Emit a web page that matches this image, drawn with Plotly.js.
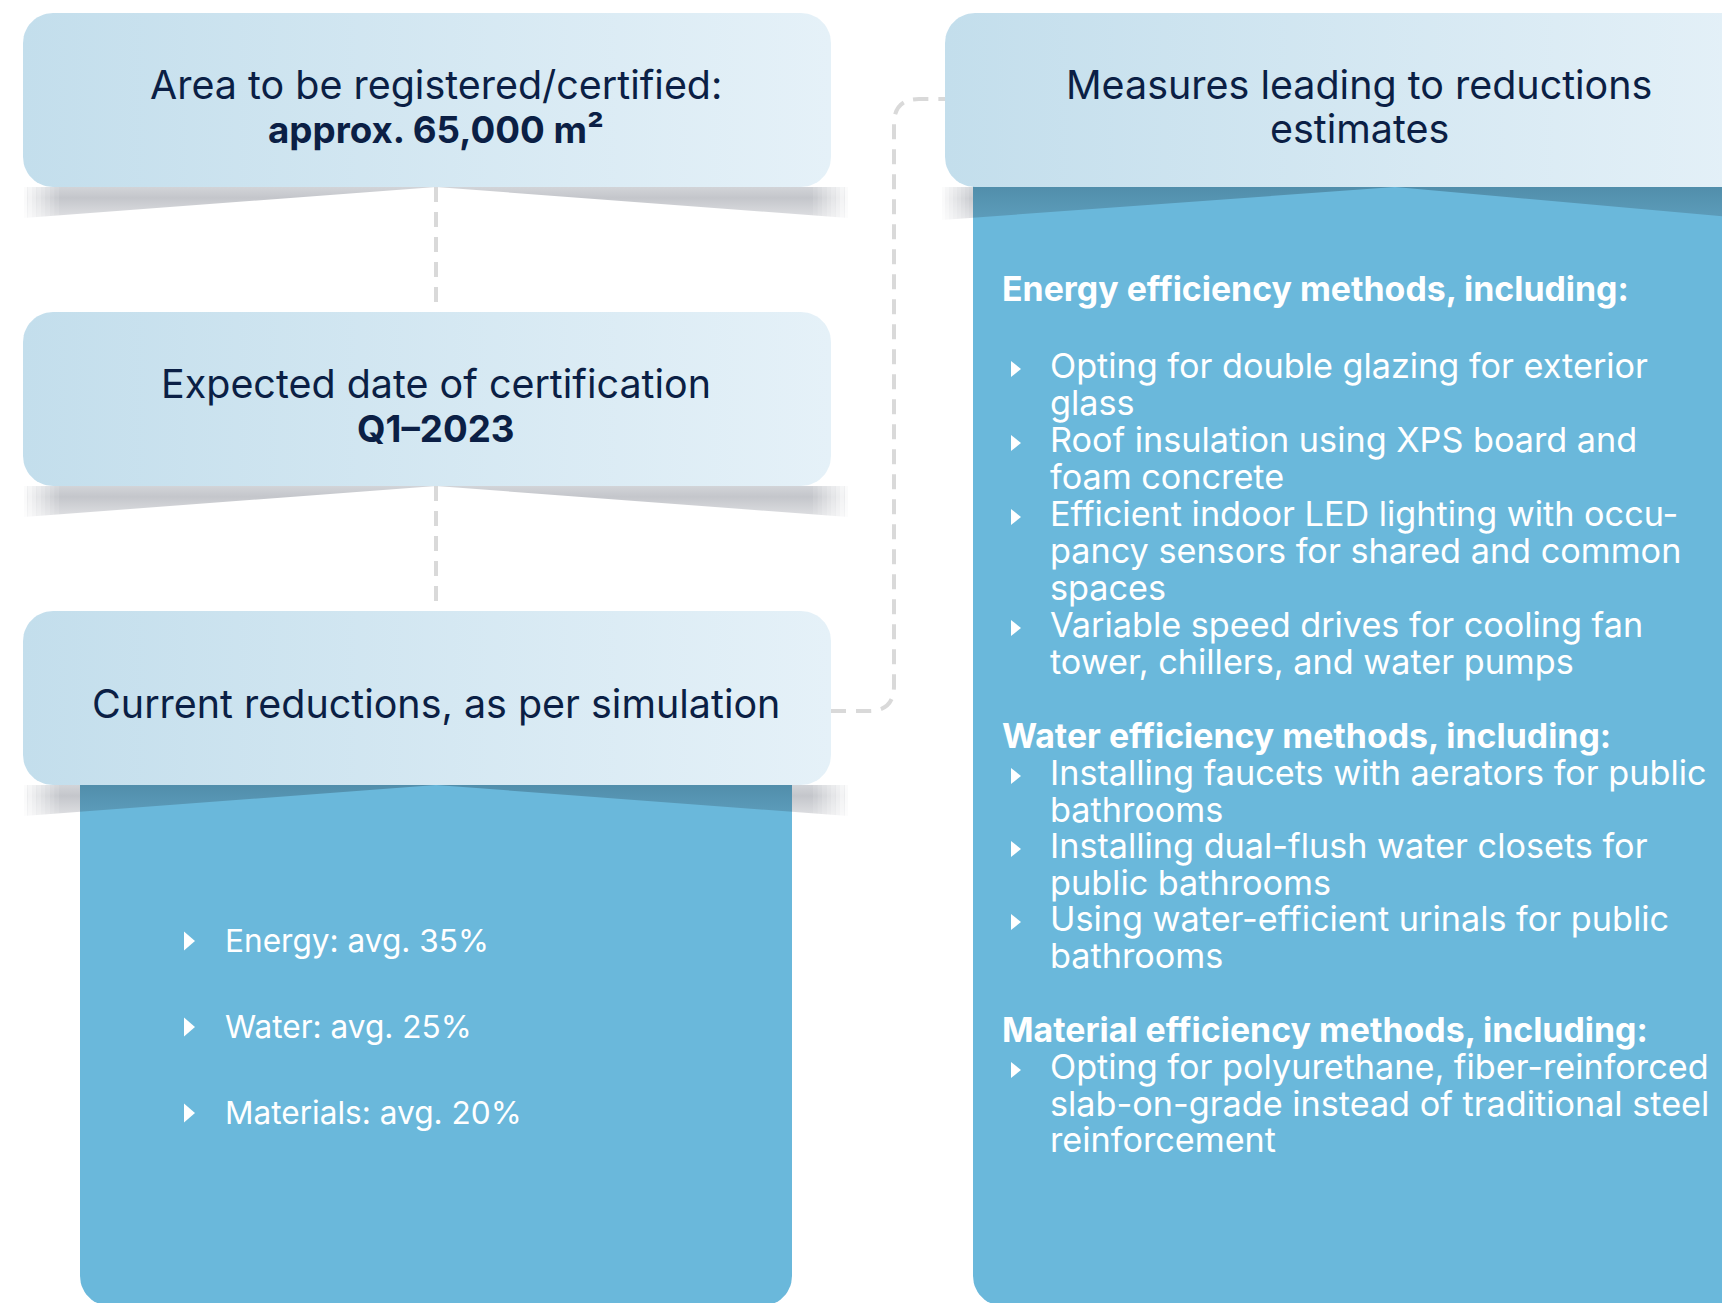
<!DOCTYPE html>
<html><head><meta charset="utf-8">
<script src="https://cdn.plot.ly/plotly-3.0.1.min.js"></script>
<style>html,body{margin:0;padding:0;background:#fff;overflow:hidden}</style>
</head><body><div id="chart" style="width:1722px;height:1303px"></div>
<script>
// ---------------- data ----------------
const cardTitles = ["Area to be registered/certified:", "Expected date of certification", "Current reductions, as per simulation"];
const cardValues = ["approx. 65,000 m²", "Q1–2023", ""];
const reductionCategories = ["Energy", "Water", "Materials"];
const reductionAvgPct = [35, 25, 20];
const measuresTitle = ["Measures leading to reductions", "estimates"];
const measureGroups = ["Energy efficiency methods, including:", "Water efficiency methods, including:", "Material efficiency methods, including:"];
const energyMeasures = [
  ["Opting for double glazing for exterior", "glass"],
  ["Roof insulation using XPS board and", "foam concrete"],
  ["Efficient indoor LED lighting with occu-", "pancy sensors for shared and common", "spaces"],
  ["Variable speed drives for cooling fan", "tower, chillers, and water pumps"]
];
const waterMeasures = [
  ["Installing faucets with aerators for public", "bathrooms"],
  ["Installing dual-flush water closets for", "public bathrooms"],
  ["Using water-efficient urinals for public", "bathrooms"]
];
const materialMeasures = [
  ["Opting for polyurethane, fiber-reinforced", "slab-on-grade instead of traditional steel", "reinforcement"]
];

// ---------------- layout / style ----------------
const W = 1722, H = 1303;
const FAMILY = "Inter, 'Open Sans', sans-serif";
const NAVY = "#0b1f45";
const PANEL = "#6ab8db";
const BOX_GRAD = [[0, "#c3deec"], [1, "#e5f1f8"]];
const SHADOW_GRAD = [[0, "#d2d4d8"], [0.35, "#c4c6cb"], [1, "#dfe0e3"]];
const WEDGE_GRAD = [[0, "#518eab"], [1, "#5c9cba"]];
const DASH = "#d9d9d9";

const cv = document.createElement('canvas').getContext('2d');
function measure(t, weight) { cv.font = weight + " 100px " + FAMILY; return cv.measureText(t).width; }
function fit(strs, widths, weight) {
  let s = 0; strs.forEach((t, i) => { s += widths[i] / measure(t, weight) * 100; }); return s / strs.length;
}
cv.font = "400 100px " + FAMILY;
const mm = cv.measureText("Hg");
const K = (mm.fontBoundingBoxAscent && mm.fontBoundingBoxDescent) ? (mm.fontBoundingBoxAscent - mm.fontBoundingBoxDescent) / 200 : 0.365;

const leftItems = reductionCategories.map((c, i) => c + ": avg. " + reductionAvgPct[i] + "%");
const sTitle = fit([cardTitles[0], cardTitles[1], cardTitles[2], measuresTitle[0]], [568, 551, 692, 587], 400);
const sValue = fit([cardValues[0], cardValues[1]], [345, 154], 700);
const sLeft = fit(leftItems, [263, 247, 298], 400);
const sHead = fit(measureGroups, [628, 612, 646], 700);
const sItem = fit([energyMeasures[0][0], energyMeasures[2][0], waterMeasures[0][0], materialMeasures[0][0]], [596, 636, 654, 656], 400);

function roundRect(x0, y0, x1, y1, r, top, bottom) {
  const xs = [], ys = [], n = 14;
  function arc(cx, cy, a0, a1) { for (let i = 0; i <= n; i++) { const a = a0 + (a1 - a0) * i / n; xs.push(cx + r * Math.cos(a)); ys.push(cy + r * Math.sin(a)); } }
  if (top) { arc(x0 + r, y0 + r, Math.PI, 1.5 * Math.PI); arc(x1 - r, y0 + r, 1.5 * Math.PI, 2 * Math.PI); }
  else { xs.push(x0, x1); ys.push(y0, y0); }
  if (bottom) { arc(x1 - r, y1 - r, 0, 0.5 * Math.PI); arc(x0 + r, y1 - r, 0.5 * Math.PI, Math.PI); }
  else { xs.push(x1, x0); ys.push(y1, y1); }
  xs.push(xs[0]); ys.push(ys[0]);
  return { xs, ys };
}
function wedge(x0, x1, apex, top, depth, cx0, cx1) {
  const yl = x => top + depth * (apex - x) / (apex - x0);
  const yr = x => top + depth * (x - apex) / (x1 - apex);
  return { xs: [cx0, cx0, cx1, cx1, apex, cx0], ys: [yl(cx0), top, top, yr(cx1), top, yl(cx0)] };
}
function rect(x0, y0, x1, y1) { return { xs: [x0, x1, x1, x0, x0], ys: [y0, y0, y1, y1, y0] }; }
function poly(p, grad, color, opacity) {
  const t = { type: 'scatter', x: p.xs, y: p.ys, mode: 'lines', line: { width: 0, color: 'rgba(0,0,0,0)' },
    fill: 'toself', fillcolor: color || '#ffffff', hoverinfo: 'skip', showlegend: false };
  if (grad) t.fillgradient = grad;
  if (opacity !== undefined) t.opacity = opacity;
  return t;
}
const vgrad = (cs, a, b) => ({ type: 'vertical', colorscale: cs, start: a, stop: b });
const hgrad = (cs, a, b) => ({ type: 'horizontal', colorscale: cs, start: a, stop: b });
// soft end of a shadow: stacked white strips of rising opacity towards the outer edge
function fade(traces, xOuter, dir, y0, y1, len) {
  const n = 8, w = len / n;
  for (let i = 0; i < n; i++) {
    const a = xOuter + dir * i * w, b = a + dir * w;
    traces.push(poly(rect(Math.min(a, b), y0, Math.max(a, b), y1), null, '#ffffff', 0.9 * (1 - i / n)));
  }
}

// geometry
const LBX0 = 23, LBX1 = 831, BOXH = 174, R = 30;
const cardTops = [13, 312, 611];
const RBX0 = 945, RBX1 = 1775, RTOP = 13;
const LP = { x0: 80, x1: 792, bottom: 1306 };
const RP = { x0: 973, x1: 1770, bottom: 1306 };
const LAPEX = 436, RAPEX = 1395;

const traces = [];
// gray shadows with soft ends
cardTops.forEach(t => {
  const b = t + BOXH;
  traces.push(poly(wedge(24, 848, LAPEX, b, 31, 24, 848), vgrad(SHADOW_GRAD, b, b + 31)));
  fade(traces, 23, 1, b, b + 34, 36);
  fade(traces, 849, -1, b, b + 34, 36);
});
{
  const b = RTOP + BOXH;
  traces.push(poly(wedge(942, 1765, RAPEX, b, 33, 942, 1765), vgrad(SHADOW_GRAD, b, b + 33)));
  fade(traces, 941, 1, b, b + 36, 32);
}
// panels
traces.push(poly(roundRect(LP.x0, cardTops[2] + 100, LP.x1, LP.bottom, R, false, true), null, PANEL));
traces.push(poly(roundRect(RP.x0, RTOP + 100, RP.x1, RP.bottom, R, false, true), null, PANEL));
// dark wedges on panels
const lb = cardTops[2] + BOXH;
traces.push(poly(wedge(24, 848, LAPEX, lb, 31, LP.x0, LP.x1), vgrad(WEDGE_GRAD, lb, lb + 28)));
const rb = RTOP + BOXH;
traces.push(poly(wedge(942, 1765, RAPEX, rb, 33, RP.x0, Math.min(RP.x1, 1765)), vgrad(WEDGE_GRAD, rb, rb + 30)));
// cards
cardTops.forEach(t => traces.push(poly(roundRect(LBX0, t, LBX1, t + BOXH, R, true, true), hgrad(BOX_GRAD, LBX0, LBX1))));
traces.push(poly(roundRect(RBX0, RTOP, RBX1, RTOP + BOXH, R, true, true), hgrad(BOX_GRAD, RBX0, RBX1)));

// shapes: dashed connectors and bullets
const shapes = [];
const dashLine = { color: DASH, width: 4, dash: "15px,10px" };
for (let i = 0; i < cardTops.length - 1; i++) {
  shapes.push({ type: 'path', xref: 'x', yref: 'y', layer: 'below', path: `M ${LAPEX} ${cardTops[i] + BOXH} L ${LAPEX} ${cardTops[i + 1]}`, line: dashLine });
}
const cy = cardTops[2] + 100, vx = 894, rr = 25, ty = 99;
shapes.push({ type: 'path', xref: 'x', yref: 'y', layer: 'below',
  path: `M ${LBX1} ${cy} L ${vx - rr} ${cy} Q ${vx} ${cy} ${vx} ${cy - rr} L ${vx} ${ty + rr} Q ${vx} ${ty} ${vx + rr} ${ty} L ${RBX0 + 5} ${ty}`,
  line: dashLine });
function tri(x, yc, w, h) {
  return { type: 'path', xref: 'x', yref: 'y', path: `M ${x} ${yc - h / 2} L ${x + w} ${yc} L ${x} ${yc + h / 2} Z`, fillcolor: '#ffffff', line: { width: 0 } };
}

// annotations
const ann = [];
function txt(x, baseline, text, size, weight, color, anchor) {
  ann.push({ x, y: baseline - K * size, xref: 'x', yref: 'y', text, showarrow: false, xanchor: anchor, yanchor: 'middle',
    borderpad: 0, font: { family: FAMILY, size, color, weight } });
}
const TCX = 436;
cardTitles.forEach((t, i) => {
  const top = cardTops[i];
  if (cardValues[i]) { txt(TCX, top + 86.5, t, sTitle, 400, NAVY, 'center'); txt(TCX, top + 129.5, cardValues[i], sValue, 700, NAVY, 'center'); }
  else txt(TCX, top + 107, t, sTitle, 400, NAVY, 'center');
});
txt(1359, RTOP + 86, measuresTitle[0], sTitle, 400, NAVY, 'center');
txt(1359, RTOP + 130, measuresTitle[1], sTitle, 400, NAVY, 'center');

// left reductions list
leftItems.forEach((t, i) => {
  const bl = 952 + 86 * i;
  txt(224, bl, t, sLeft, 400, '#ffffff', 'left');
  shapes.push(tri(184, bl - 11, 11, 19));
});

// right measures list
const groups = [energyMeasures, waterMeasures, materialMeasures];
const headBase = [301, 748, 1042], firstGap = [77, 37, 37], step = [37, 36.5, 36.5];
groups.forEach((g, gi) => {
  txt(1001, headBase[gi], measureGroups[gi], sHead, 700, '#ffffff', 'left');
  let y = headBase[gi] + firstGap[gi];
  g.forEach(item => {
    shapes.push(tri(1011, y - 9, 10, 16));
    item.forEach(line => { txt(1049, y, line, sItem, 400, '#ffffff', 'left'); y += step[gi]; });
  });
});

const layout = {
  width: W, height: H, margin: { l: 0, r: 0, t: 0, b: 0 },
  paper_bgcolor: '#ffffff', plot_bgcolor: '#ffffff',
  xaxis: { range: [0, W], visible: false, fixedrange: true },
  yaxis: { range: [H, 0], visible: false, fixedrange: true },
  shapes, annotations: ann, showlegend: false
};
Plotly.newPlot('chart', traces, layout, { staticPlot: true, displayModeBar: false });
</script>
</body></html>
